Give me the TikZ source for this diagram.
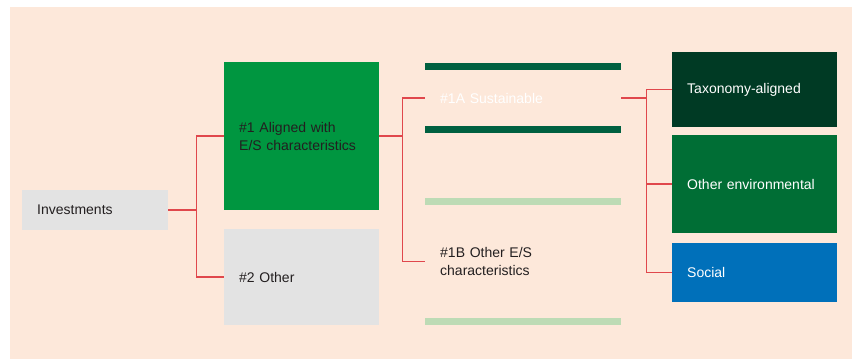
\documentclass[tikz,border=0pt]{standalone}
\usepackage{fontspec}
\setmainfont{Liberation Sans}
\definecolor{bgpeach}{HTML}{FDE8DA}
\definecolor{boxgray}{HTML}{E3E3E3}
\definecolor{greenA}{HTML}{009640}
\definecolor{darkbar}{HTML}{006040}
\definecolor{lightbar}{HTML}{BDDBB5}
\definecolor{taxgreen}{HTML}{003A24}
\definecolor{envgreen}{HTML}{006E35}
\definecolor{socblue}{HTML}{0070BA}
\definecolor{linkred}{HTML}{E0474C}
\definecolor{txtdark}{HTML}{231F20}
\tikzset{
  catbox/.style={draw=none, inner xsep=15pt, inner ysep=0pt, align=left,
    font=\fontsize{14}{18}\selectfont, text=txtdark, anchor=north west},
  link/.style={draw=linkred, line width=1.5pt},
  bar/.style={draw=none}
}
\begin{document}
\begin{tikzpicture}[x=1pt,y=-1pt]
\useasboundingbox (0,0) rectangle (852,360);
\fill[bgpeach] (10,7) rectangle (852,359);

\node[catbox, fill=boxgray, text width=116pt, minimum height=40pt] (inv) at (22,190) {Investments};
\node[catbox, fill=greenA, text width=125pt, minimum height=148pt] (al) at (224,62) {\#1 Aligned with\\E/S characteristics};
\node[catbox, fill=boxgray, text width=125pt, minimum height=96pt] (ot) at (224,229) {\#2 Other};

\node[catbox, text=white, text width=166pt, minimum height=70pt] (sus) at (425,63) {\#1A Sustainable};
\node[catbox, text width=166pt, minimum height=127pt] (oes) at (425,198) {\#1B Other E/S\\characteristics};

\fill[darkbar] (sus.north west) rectangle ++(196,7);
\fill[darkbar] (sus.south west) rectangle ++(196,-7);
\fill[lightbar] (oes.north west) rectangle ++(196,7);
\fill[lightbar] (oes.south west) rectangle ++(196,-7);

\node[catbox, fill=taxgreen, text=white, text width=135pt, minimum height=75pt] (tax) at (672,52) {Taxonomy-aligned};
\node[catbox, fill=envgreen, text=white, text width=135pt, minimum height=98pt] (env) at (672,135) {Other environmental};
\node[catbox, fill=socblue, text=white, text width=135pt, minimum height=59pt] (soc) at (672,243) {Social};

\draw[link] (inv.east) -- ++(28,0) |- (al.west);
\draw[link] (inv.east) -- ++(28,0) |- (ot.west);
\draw[link] (al.east) -- ++(23,0) |- (sus.west);
\draw[link] (al.east) -- ++(23,0) |- (oes.west);
\draw[link] (sus.east) -- ++(25,0) |- (tax.west);
\draw[link] (sus.east) -- ++(25,0) |- (env.west);
\draw[link] (sus.east) -- ++(25,0) |- (soc.west);
\end{tikzpicture}
\end{document}
